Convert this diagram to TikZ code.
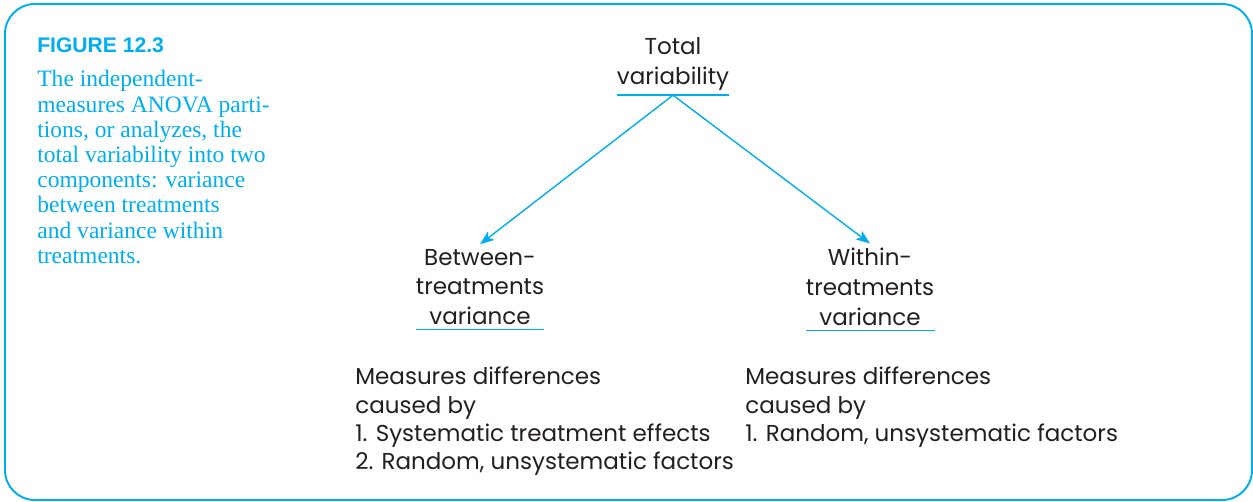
\documentclass[tikz,border=0pt]{standalone}
\usepackage{fontspec}
\setmainfont{Liberation Serif}
\setsansfont{Poppins}
\newfontfamily\figfont{Liberation Sans}
\usetikzlibrary{arrows.meta,positioning}
\definecolor{cyanline}{HTML}{00AEEF}
\definecolor{inkgray}{HTML}{231F20}

\begin{document}
\begin{tikzpicture}[
  x=0.02cm, y=-0.02cm,
  every node/.style={font=\sffamily\fontsize{13.1}{16}\selectfont, text=inkgray},
  heading/.style={align=center, inner xsep=0pt, inner ysep=2.5pt,
                  font=\sffamily\fontsize{13.1}{17}\selectfont},
  notes/.style={align=left, inner sep=0pt, anchor=north west},
  caption/.style={align=left, inner sep=0pt, anchor=north west, text=cyanline,
                  font=\rmfamily\fontsize{13.4}{14.35}\selectfont},
  rule/.style={draw=cyanline, line width=0.8pt},
  arrow/.style={-{Stealth[length=8pt, width=6pt, inset=2pt]}, draw=cyanline, line width=0.8pt}
]

\useasboundingbox (0,0) rectangle (1253,501);
\draw[cyanline, line width=1.1pt, rounded corners=17pt] (5,4) rectangle (1252,500);

% caption at the left
\node[caption, font=\figfont\bfseries\fontsize{12}{14}\selectfont] (fig) at (37,37) {FIGURE 12.3};
\node[caption, below=10pt of fig.south west, anchor=north west] (cap)
  {The independent-\\measures ANOVA parti-\\tions, or analyzes, the\\total variability into two\\
   components: variance\\between treatments\\and variance within\\treatments.};

% partition tree
\node[heading] (total) at (673,64) {Total\\variability};
\node[heading] (between) at (480,287) {Between-\\treatments\\variance};
\node[heading] (within) at (870,287) {Within-\\treatments\\variance};

\node[notes] (betweennote) at (355,367)
  {Measures differences\\caused by\\1. Systematic treatment effects\\2. Random, unsystematic factors};
\node[notes] (withinnote) at (745,367)
  {Measures differences\\caused by\\1. Random, unsystematic factors};

\draw[rule] (total.south west) -- (total.south east);
\draw[rule] (between.south west) -- (between.south east);
\draw[rule] (within.south west) -- (within.south east);

\draw[arrow] (total.south) -- (between.north);
\draw[arrow] (total.south) -- (within.north);

\end{tikzpicture}
\end{document}
